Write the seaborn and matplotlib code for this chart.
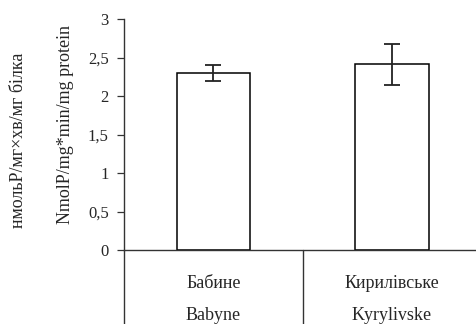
import matplotlib
matplotlib.use("Agg")
import matplotlib.pyplot as plt
import seaborn as sns
import pandas as pd

sites_ua = ["Бабине", "Кирилівське"]
sites_en = ["Babyne", "Kyrylivske"]
activity = [2.30, 2.41]
activity_err = [0.10, 0.27]
y_ticks = [0, 0.5, 1, 1.5, 2, 2.5, 3]
y_tick_labels = ["0", "0,5", "1", "1,5", "2", "2,5", "3"]

sns.set_theme(style="white")
plt.rcParams["font.family"] = ["Liberation Serif", "DejaVu Serif"]

df = pd.DataFrame({"site": sites_ua, "activity": activity})

W, H = 476, 324
fig = plt.figure(figsize=(W / 100, H / 100), dpi=100)
ax = fig.add_axes([124 / W, (H - 250) / H, (476 - 124) / W, (250 - 19) / H])

sns.barplot(data=df, x="site", y="activity", order=sites_ua, errorbar=None,
            color="white", edgecolor="black", linewidth=1.1, width=0.41, ax=ax)
for patch in ax.patches:
    patch.set_facecolor("white")
ax.errorbar(range(len(activity)), activity, yerr=activity_err, fmt="none",
            ecolor="#222222", elinewidth=1.3, capsize=6, capthick=1.3)

ax.set_xlim(-0.5, 1.47)
ax.set_ylim(0, 3)
ax.set_yticks(y_ticks)
ax.set_yticklabels(y_tick_labels, fontsize=12)
ax.tick_params(axis="y", direction="out", length=5, width=0.9, color="#333333",
               left=True, pad=6)
ax.set_xticks([])
ax.set_xlabel("")
ax.set_ylabel("")
for side in ["top", "right"]:
    ax.spines[side].set_visible(False)
for side in ["left", "bottom"]:
    ax.spines[side].set_color("#333333")
    ax.spines[side].set_linewidth(1.0)

# category frame below the axis
trans = ax.get_xaxis_transform()
depth = -(H - 250) / (250 - 19)
for xpos in [-0.5, 0.5]:
    ax.plot([xpos, xpos], [0, depth], transform=trans, color="#333333",
            lw=1.0, clip_on=False)

for i, (ua, en) in enumerate(zip(sites_ua, sites_en)):
    ax.text(i, -(283 - 250) / (250 - 19), ua, transform=trans, ha="center",
            va="center", fontsize=13)
    ax.text(i, -(316 - 250) / (250 - 19), en, transform=trans, ha="center",
            va="center", fontsize=13)

fig.text(19 / W, 1 - 140 / H, "нмольP/мг×хв/мг білка", rotation=90,
         ha="center", va="center", fontsize=13)
fig.text(66 / W, 1 - 125 / H, "NmolP/mg*min/mg protein", rotation=90,
         ha="center", va="center", fontsize=13)

fig.savefig("out.png", dpi=100)
